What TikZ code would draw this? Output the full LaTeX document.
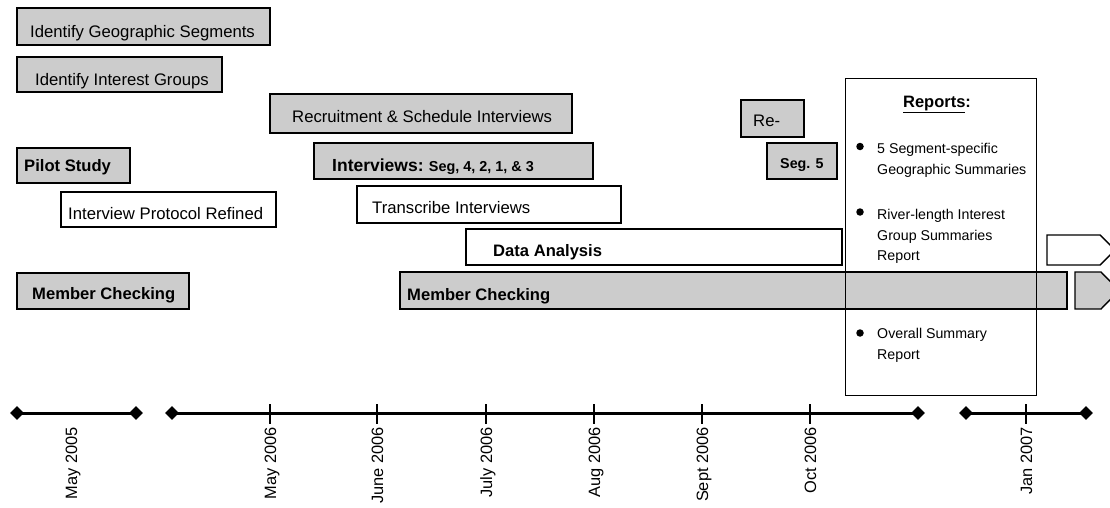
\documentclass[tikz,border=0pt]{standalone}
\usepackage{fontspec}
\setmainfont{Liberation Sans}
\usetikzlibrary{shapes.geometric}
\definecolor{boxgray}{RGB}{204,204,204}
\begin{document}
\begin{tikzpicture}[x=1pt,y=-1pt,
  gbox/.style={draw=black, line width=1.4pt, fill=boxgray, rectangle, inner sep=0pt, outer sep=0pt, anchor=north west},
  wbox/.style={draw=black, line width=1.4pt, fill=white, rectangle, inner sep=0pt, outer sep=0pt, anchor=north west},
  reg/.style={anchor=base west, inner sep=0pt, font=\fontsize{16.7}{20}\selectfont},
  bld/.style={anchor=base west, inner sep=0pt, font=\fontsize{16.6}{20}\selectfont\bfseries},
  sml/.style={anchor=base west, inner sep=0pt, font=\fontsize{14.2}{17}\selectfont},
  dot/.style={circle, fill=black, inner sep=0pt, minimum size=7.5pt},
  dia/.style={diamond, aspect=1, fill=black, inner sep=0pt, minimum size=14pt},
  axisline/.style={line width=3pt},
  tickl/.style={line width=2pt},
  axl/.style={rotate=90, anchor=base east, inner sep=0pt, font=\fontsize{16.4}{20}\selectfont}
]
\useasboundingbox (0,0) rectangle (1110,508);
\clip (0,0) rectangle (1110,508);

% left column
\node[gbox, minimum width=253pt, minimum height=37pt] (geo) at (17,8) {};
\node[reg] (geot) at (30,37.3) {Identify Geographic Segments};
\node[gbox, minimum width=205pt, minimum height=35pt] (int) at (17,57) {};
\node[reg] (intt) at (35,86) {Identify Interest Groups};
\node[gbox, minimum width=113pt, minimum height=35pt] (pil) at (17,148) {};
\node[bld] (pilt) at (24,171.7) {Pilot Study};
\node[wbox, minimum width=215pt, minimum height=35pt] (prot) at (61,192) {};
\node[reg] (prott) at (68,219) {Interview Protocol Refined};
\node[gbox, minimum width=172pt, minimum height=36pt] (mc1) at (17,273) {};
\node[bld] (mc1t) at (32,299) {Member Checking};

% middle
\node[gbox, minimum width=302pt, minimum height=39pt] (rec) at (270,94) {};
\node[reg] (rect) at (292,122) {Recruitment \& Schedule Interviews};
\node[gbox, minimum width=279pt, minimum height=36pt] (ivw) at (314,143) {};
\node[anchor=base west, inner sep=0pt, font=\fontsize{14.4}{17}\selectfont\bfseries] (ivwt) at (332,171)
  {{\fontsize{17.5}{20}\selectfont Interviews:} Seg, 4, 2, 1, \& 3};
\node[wbox, minimum width=264pt, minimum height=37pt] (tra) at (357,186) {};
\node[reg] (trat) at (372,213) {Transcribe Interviews};
\node[wbox, minimum width=376pt, minimum height=36pt] (dat) at (466,229) {};
\node[bld] (datt) at (493,256) {Data Analysis};
\node[gbox, minimum width=667pt, minimum height=37pt] (mc2) at (400,272) {};
\node[bld] (mc2t) at (407,300) {Member Checking};
\node[gbox, minimum width=63pt, minimum height=37pt] (re) at (741,100) {};
\node[reg] (ret) at (753,126.5) {Re-};
\node[gbox, minimum width=70pt, minimum height=36pt] (s5) at (767,143) {};
\node[anchor=base west, inner sep=0pt, font=\fontsize{14.3}{17}\selectfont\bfseries] (s5t) at (780,168) {Seg. 5};

% continuation arrows
\draw[line width=1.4pt, fill=white] (1047,235) -- (1100,235) -- (1115,250) -- (1100,265) -- (1047,265) -- cycle;
\draw[line width=1.4pt, fill=boxgray] (1075,272) -- (1101,272) -- (1119,290.5) -- (1101,309) -- (1075,309) -- cycle;

% reports box
\node[draw=black, line width=1.4pt, rectangle, inner sep=0pt, anchor=north west, minimum width=191pt, minimum height=317pt] (rep) at (845,78) {};
\node[anchor=base, inner sep=0pt, font=\fontsize{16.5}{20}\selectfont\bfseries] (rept) at (937,107) {\underline{Reports}:};
\node[dot] (bu1) at (860,146.5) {};
\node[sml] (r1a) at (877,153) {5 Segment-specific};
\node[sml] (r1b) at (877,174) {Geographic Summaries};
\node[dot] (bu2) at (860,212) {};
\node[sml] (r2a) at (877,219.5) {River-length Interest};
\node[sml] (r2b) at (877,240) {Group Summaries};
\node[sml] (r2c) at (877,260.5) {Report};
\node[dot] (bu3) at (860,333) {};
\node[sml] (r3a) at (877,338.5) {Overall Summary};
\node[sml] (r3b) at (877,359) {Report};

% time axis
\node[dia] (d1) at (17,413) {};
\node[dia] (d2) at (136,413) {};
\node[dia] (d3) at (172,413) {};
\node[dia] (d4) at (918,413) {};
\node[dia] (d5) at (966,413) {};
\node[dia] (d6) at (1086,413) {};
\draw[axisline] (d1.center) -- (d2.center);
\draw[axisline] (d3.center) -- (d4.center);
\draw[axisline] (d5.center) -- (d6.center);
\foreach \x in {270,377,486,594,702,810,1026} \draw[tickl] (\x,404) -- (\x,424);
\node[axl] (l0) at (77,427) {May 2005};
\node[axl] (l1) at (276,427) {May 2006};
\node[axl] (l2) at (383,427) {June 2006};
\node[axl] (l3) at (492,427) {July 2006};
\node[axl] (l4) at (600,427) {Aug 2006};
\node[axl] (l5) at (708,427) {Sept 2006};
\node[axl] (l6) at (816,427) {Oct 2006};
\node[axl] (l7) at (1032,427) {Jan 2007};
\end{tikzpicture}
\end{document}
